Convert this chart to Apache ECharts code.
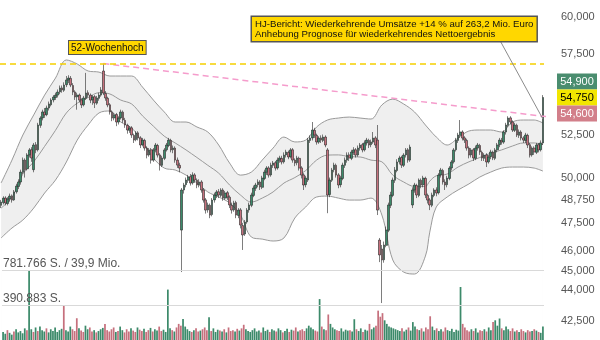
<!DOCTYPE html>
<html><head><meta charset="utf-8">
<script src="https://cdn.jsdelivr.net/npm/echarts@6/dist/echarts.min.js"></script>
<style>html,body{margin:0;padding:0;background:#fff}#c{width:600px;height:340px}</style>
</head><body><div id="c"></div>
<script>
// [open, close, low, high]
const ohlc = [
[48450,48630,48300,48750],[48600,48850,48500,48950],[48850,48580,48450,48950],[48550,48800,48450,48900],[48800,48960,48650,49100],[48950,48740,48600,49050],[48750,49190,48700,49300],[49200,49520,49100,49650],[49500,49750,49350,49900],[49750,50310,49600,50450],
[50300,51000,50200,51150],[51000,50450,50000,51100],[50500,51290,50400,51400],[51300,51590,51150,51700],[51600,51120,50900,51750],[50450,51880,50300,52000],[51900,51590,51400,52050],[51600,53070,51500,53200],[53050,53490,52900,53600],[53500,53860,53350,54000],
[53850,53680,53500,54100],[53700,54100,53600,54250],[54100,54350,53950,54500],[54300,54590,54200,54700],[54600,54780,54450,54900],[54750,54900,54600,55050],[54900,55090,54750,55250],[55100,55340,54950,55500],[55350,55220,55050,55500],[55200,55530,55100,55700],
[55550,55850,55400,56100],[55850,55970,55650,56150],[55950,55530,55400,56100],[55500,55090,54900,55650],[55100,54780,54600,55200],[54800,54900,54000,55050],[54900,54590,54450,55000],[54600,54290,54100,54700],[54300,54720,54200,54850],[54700,55030,54600,56300],
[55050,54900,54750,55200],[54900,54590,54400,55000],[54600,54780,54300,54900],[54800,54410,54100,54900],[54400,54720,54300,54850],[54700,54900,54550,55050],[54900,55220,54800,55400],[56420,55030,54900,56900],[55000,54720,54550,55150],[54700,54290,54150,54800],
[54300,53860,53700,54400],[53850,53490,53300,53950],[53500,53680,53350,53800],[53700,53250,53000,53800],[53250,53490,53100,53600],[53500,53860,53400,54000],[53850,53370,53200,53950],[53350,53070,52900,53500],[53050,52770,52550,53150],[52750,52890,52600,53000],
[52900,52470,52300,53000],[52450,52170,52000,52550],[52200,52590,52100,52700],[52600,52290,52150,52700],[52300,51880,51700,52400],[51900,52170,51800,52300],[52150,51700,51550,52250],[51700,51290,51100,51800],[51300,51590,51200,51700],[51600,51000,50800,51700],
[51000,51590,50900,51700],[51600,51880,51450,52000],[51850,51290,51150,51950],[51300,50710,50400,51400],[50700,51120,50600,51250],[51100,51590,51000,51700],[51600,51880,51500,52000],[51850,52170,51750,52300],[52150,51590,51450,52250],[51600,51700,51400,51850],
[51700,51000,50850,51800],[51000,50710,50550,51150],[50700,50540,50300,50850],[47110,49300,44920,49410],[49300,49580,49100,49700],[49600,49860,49450,50000],[49850,50030,49700,50150],[50050,49690,49550,50200],[49700,50140,49600,50300],[50150,49860,49700,50250],
[49850,49580,49400,49950],[49600,49750,49450,49900],[49750,49300,49150,49850],[49300,48740,48600,49400],[48750,48190,48000,48850],[48200,48470,48050,48600],[48450,47920,47750,48550],[47950,48740,47850,48850],[48750,49020,48600,49150],[49000,49190,48850,49300],
[49200,49020,48850,49350],[49000,49300,48900,49400],[49300,48850,48700,49400],[48850,49130,48750,49250],[49150,48910,48750,49250],[48900,48470,48300,49000],[48450,48190,48000,48600],[48200,48580,48100,48700],[48600,47920,47750,48700],[47900,48190,47750,48300],
[48200,47380,47200,48300],[47350,46850,46060,47500],[46900,47540,46800,47650],[47550,48190,47450,48300],[48200,48470,48050,48600],[48450,49020,48350,49150],[49000,49410,48900,49550],[49400,49580,49250,49700],[49600,49750,49450,49900],[49750,49470,49300,49850],
[49450,49970,49350,50100],[49950,50310,49850,50450],[50300,50540,50150,50650],[50550,50140,50000,50650],[50150,50710,50050,50850],[50700,50830,50550,50950],[50850,50540,50400,50950],[50550,51000,50450,51150],[51000,51120,50850,51250],[51100,50890,50750,51250],
[50900,51290,50800,51450],[51300,51470,51150,51600],[51450,51180,51050,51550],[51200,51590,51100,51700],[51600,51000,50850,51700],[51000,50830,50650,51100],[50850,51120,50700,51250],[51100,50540,50400,51200],[50550,50140,49950,50650],[50150,49580,49300,50250],
[49600,49970,49450,50100],[49860,52170,49750,52300],[52150,52290,52000,52450],[52300,52770,52150,53250],[52750,52470,52300,52900],[52450,52060,51900,52550],[52050,52290,51950,52400],[52300,52170,52000,52450],[52150,52350,52050,52500],[52350,51880,51750,52450],
[51590,49020,48020,51700],[49050,49860,48900,50000],[49850,50430,49750,50550],[50450,50710,50300,50850],[50700,50140,50000,50800],[50150,49580,49400,50250],[49600,49970,49450,50100],[49950,50710,49850,50850],[50700,51000,50550,51150],[51000,51290,50850,51450],
[51300,51120,50950,51450],[51100,51470,51000,51600],[51450,51590,51300,51750],[51600,51290,51150,51700],[51300,51700,51200,51850],[51700,51880,51550,52000],[51900,51590,51450,52000],[51600,52000,51500,52150],[52000,52170,51850,52300],[52150,51880,51700,52250],
[51900,52060,51750,52200],[52050,52290,51950,52650],[52300,51880,51700,52400],[52170,48190,47920,53070],[46580,45800,45430,46690],[46110,45540,43370,46320],[45550,46320,45400,46500],[46300,47110,46200,47300],[47100,48470,47000,48600],[48450,49020,48300,49200],
[49000,49860,48900,50000],[49850,50430,49700,50600],[50400,50890,50300,51050],[50900,51120,50750,51250],[51150,50710,50550,51250],[50700,51290,50600,51400],[51300,51590,51150,51700],[51600,51000,50850,51700],[51000,51760,50900,51900],[48470,49300,48300,49450],
[49300,49580,49150,49700],[49550,49020,48850,49650],[49000,49860,48900,49950],[49850,49580,49400,49950],[49600,49970,49450,50100],[49950,49020,48850,50050],[49000,48740,48550,49100],[48750,48470,48190,48850],[48450,49020,48350,49150],[49000,49300,48900,49400],
[49300,49130,48950,49450],[49150,50140,49050,50250],[50150,50430,50000,50550],[50400,49750,49600,50500],[49750,49580,49300,49900],[49600,49970,49450,50100],[49950,50540,49850,50650],[50550,50890,50400,51000],[50900,51590,50800,51700],[51600,52170,51500,52300],
[52150,52470,52000,52600],[52450,52650,52300,53370],[52650,52290,52150,52750],[52300,52170,52000,52400],[52150,51700,51550,52250],[51700,51290,51100,51800],[51300,51590,51150,51700],[51600,51120,50950,51700],[51100,51700,51000,51850],[51700,51880,51550,52000],
[51850,51470,51300,51950],[51450,51120,50950,51550],[51100,51290,50950,51400],[51300,50890,50600,51400],[50900,51180,50800,51300],[51200,51470,51050,51600],[51450,51120,51000,51550],[51100,51590,51000,51700],[51600,51880,51450,52000],[51900,52170,51750,52300],
[52150,52060,51900,52300],[52050,52650,51950,52750],[52650,53070,52500,53200],[53050,53490,52950,53600],[53500,53250,53100,53600],[53250,52770,52650,53350],[52750,53070,52650,53200],[53050,52470,52350,53150],[52450,52650,52300,52800],[52650,52290,52150,52750],
[52300,52170,52000,52400],[52150,52470,52000,52600],[52450,51880,51700,52550],[51900,51290,51150,52000],[51300,51700,51200,51800],[51700,51470,51300,51800],[51450,51880,51350,52000],[51900,51590,51450,52000],[51600,52000,51500,52150],[52000,54750,51880,54900]
];
// volume in thousand shares
const volumesK = [
90,70,110,80,60,95,120,85,100,75,
130,110,781.766,120,90,140,100,150,110,95,
130,85,120,100,140,90,110,125,390,110,
95,150,120,100,243,130,105,90,160,120,
140,95,110,85,100,120,135,180,110,95,
120,140,90,100,150,110,85,120,95,130,
105,90,140,115,100,125,90,110,135,95,
120,105,150,100,115,90,563,130,110,95,
140,180,160,235,150,120,100,90,110,130,
95,105,120,140,110,254,100,130,90,115,
105,95,120,85,140,100,110,95,125,105,
130,170,120,100,90,110,130,95,105,85,
140,100,115,90,120,105,95,130,110,85,
100,125,90,115,105,140,95,110,120,100,
130,160,140,120,105,95,457,150,120,110,
285,180,140,120,110,100,130,95,115,105,
110,95,232,120,100,130,90,115,105,180,
120,140,160,328,260,300,220,180,150,140,
130,120,110,100,130,95,115,140,105,200,
150,120,110,130,95,140,120,265,150,110,
130,100,120,95,140,110,100,125,90,115,
105,592,180,140,110,95,120,100,130,85,
110,100,120,95,140,110,200,220,160,240,
130,110,150,120,100,130,95,110,90,120,
100,85,110,95,100,120,105,90,80,150
];
// Bollinger bands, read at these candle indices
const bandIdx = [0,5,10,15,20,25,30,35,40,45,50,55,60,65,70,75,80,85,90,95,100,105,110,115,120,125,130,135,140,145,150,155,160,165,170,175,180,185,190,195,197,200,205,210,215,220,225,230,235,240,245,249];
const bandUpper = [49690,51000,52470,53680,54900,55970,57130,56870,56420,56350,56100,56100,56100,55400,54590,53860,53250,53250,52950,52650,51880,50830,50140,50310,51000,51700,52350,52060,52170,52950,53370,53490,53550,53490,53430,54290,54650,54350,53860,53070,52770,52350,51880,52290,52710,52770,52770,52650,53250,53370,53370,53190];
const bandMiddle = [48300,48900,50200,50900,51800,52750,53800,54400,54750,55050,54970,54590,54350,53620,53000,52400,52000,51590,51150,50700,50250,49580,49020,48630,48850,49190,49690,50000,50400,51000,51290,51300,51200,51180,51000,50900,50140,49750,49500,49500,49800,50100,50200,50600,50900,51150,51400,51590,51820,52000,52000,51900];
const bandLower = [46690,47220,47650,48300,49130,49860,50890,52170,53070,53800,53920,53250,52890,52060,51120,50540,50430,50140,49690,49190,48910,48580,47920,46740,46630,46530,46690,47760,48360,48910,48960,48850,48740,48740,48850,47920,45540,44920,44820,45740,47000,48360,48910,49300,49640,50030,50310,50540,50600,50600,50540,50370];

const priceTicks = [42500,44000,45000,46000,47500,48750,50000,52500,57500,60000];
const high52 = 56900, high52Idx = 47;
const trendEnd = [275, 53190];
const volMax = 781766;
const quoteLabels = ['54,900','54,750','54,600'];
const quoteMid = 54750;
const note52 = '52-Wochenhoch';
const noteHJ = 'HJ-Bericht: Wiederkehrende Umsätze +14 % auf 263,2 Mio. Euro\nAnhebung Prognose für wiederkehrendes Nettoergebnis';
const noteTarget = [249, 53430];

const FONT = '"Liberation Sans", Arial, Helvetica, sans-serif';
const upCol = '#3c8a6a', downCol = '#c6707d';
const fmt = v => String(Math.round(v)).replace(/\B(?=(\d{3})+(?!\d))/g, ',');

const chart = echarts.init(document.getElementById('c'), null, {renderer: 'canvas', width: 600, height: 340});
const cats = ohlc.map((_, i) => i);
const volData = volumesK.map((v, i) => ({
  value: Math.round(v * 1000),
  itemStyle: { color: ohlc[i][1] >= ohlc[i][0] ? upCol : downCol }
}));
const upperPairs = bandIdx.map((x, k) => [x, bandUpper[k]]);
const lowerPairs = bandIdx.map((x, k) => [x, bandLower[k]]);
const midPairs = bandIdx.map((x, k) => [x, bandMiddle[k]]);
const bandLine = { color: '#9a9a9a', width: 1 };

chart.setOption({
  animation: false,
  backgroundColor: '#ffffff',
  grid: [
    { left: 0, right: 56, top: 0, bottom: 0 },
    { left: 0, right: 56, top: 270, height: 74 }
  ],
  xAxis: [
    { type: 'category', data: cats, gridIndex: 0, show: false },
    { type: 'value', gridIndex: 0, min: -0.5, max: 249.5, show: false },
    { type: 'category', data: cats, gridIndex: 1, show: false }
  ],
  yAxis: [
    { type: 'log', gridIndex: 0, position: 'right', min: 41590, max: 61150,
      splitLine: { show: false }, axisLine: { show: false }, axisTick: { show: false },
      axisLabel: { customValues: priceTicks, margin: 17, color: '#555', fontSize: 11, fontFamily: FONT, formatter: v => fmt(v) } },
    { type: 'value', gridIndex: 1, position: 'left', min: 0, max: volMax, interval: volMax / 2, z: 10,
      axisLine: { show: false }, axisTick: { show: false },
      splitLine: { lineStyle: { color: '#d9d9d9', width: 1 } },
      axisLabel: { inside: true, margin: 1, verticalAlign: 'bottom', color: '#555', fontSize: 12, fontFamily: FONT,
        formatter: v => v >= volMax - 1 ? '781.766 S. / 39,9 Mio.' : (v > 0 ? '390.883 S.' : '') } }
  ],
  series: [
    // upper band: grey fill down to the axis start
    { type: 'line', xAxisIndex: 1, yAxisIndex: 0, data: upperPairs, smooth: 0.35,
      symbol: 'none', lineStyle: bandLine, areaStyle: { color: '#efefef', opacity: 1, origin: 'start' }, silent: true, z: 1 },
    // lower band: white fill below it, so grey stays only between the bands
    { type: 'line', xAxisIndex: 1, yAxisIndex: 0, data: lowerPairs, smooth: 0.35,
      symbol: 'none', lineStyle: bandLine, areaStyle: { color: '#ffffff', opacity: 1, origin: 'start' }, silent: true, z: 1 },
    { type: 'line', xAxisIndex: 1, yAxisIndex: 0, data: midPairs, smooth: 0.35,
      symbol: 'none', lineStyle: bandLine, silent: true, z: 1 },
    { type: 'candlestick', xAxisIndex: 0, yAxisIndex: 0, data: ohlc, barWidth: 2.1, z: 3,
      itemStyle: { color: upCol, color0: downCol, borderColor: '#262626', borderColor0: '#262626', borderWidth: 0.6 },
      markLine: { silent: true, symbol: ['none', 'none'], label: { show: false },
        lineStyle: { color: '#f5d000', type: [6, 4], width: 1.5 }, data: [{ yAxis: high52 }] } },
    { type: 'line', xAxisIndex: 1, yAxisIndex: 0, data: [[high52Idx, high52], trendEnd], clip: false,
      symbol: 'none', lineStyle: { color: '#f59ccc', type: [6, 4], width: 1.5 }, silent: true, z: 4 },
    { type: 'bar', xAxisIndex: 2, yAxisIndex: 1, data: volData, barWidth: '80%', silent: true, z: 2 }
  ]
});

const yMid = chart.convertToPixel({ yAxisIndex: 0 }, quoteMid);
const tx = chart.convertToPixel({ xAxisIndex: 1 }, noteTarget[0]);
const ty = chart.convertToPixel({ yAxisIndex: 0 }, noteTarget[1]);
const badgeCols = [['#4a8d6f', '#ffffff'], ['#f2e600', '#000000'], ['#d27f8a', '#ffffff']];
const gfx = [
  { type: 'line', z: 100, shape: { x1: 497, y1: 35, x2: tx, y2: ty }, style: { stroke: '#8c8c8c', lineWidth: 1 } },
  { type: 'text', z: 101, x: 69, y: 41, style: { text: note52, font: '10px ' + FONT, fill: '#111', align: 'left', verticalAlign: 'top',
      backgroundColor: '#ffd700', borderColor: '#555', borderWidth: 1, padding: [2, 2, 1, 2] } },
  { type: 'text', z: 101, x: 252, y: 17, style: { text: noteHJ, font: '9.65px ' + FONT, fill: '#111', align: 'left', verticalAlign: 'top',
      lineHeight: 10, backgroundColor: '#ffd700', borderColor: '#555', borderWidth: 1.5, padding: [2, 3, 2, 3] } }
];
quoteLabels.forEach((t, k) => {
  const yc = yMid + (k - 1) * 16;
  gfx.push({ type: 'rect', z: 100, shape: { x: 557, y: yc - 8, width: 40, height: 16 }, style: { fill: badgeCols[k][0] } });
  gfx.push({ type: 'text', z: 101, x: 577, y: yc, style: { text: t, font: '11px ' + FONT, fill: badgeCols[k][1], align: 'center', verticalAlign: 'middle' } });
});
chart.setOption({ graphic: gfx });
</script>
</body></html>
